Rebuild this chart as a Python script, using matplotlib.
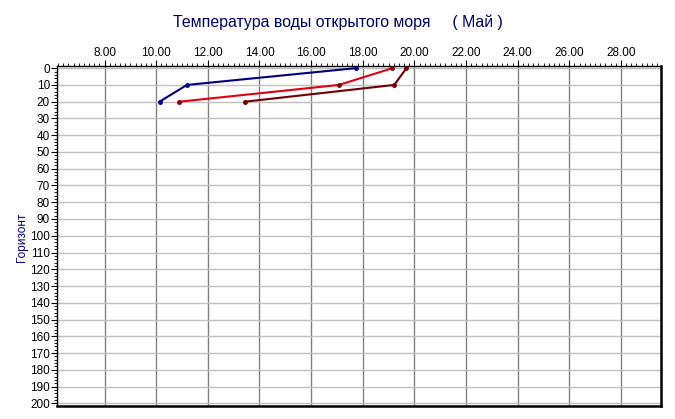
import matplotlib
matplotlib.use('Agg')
import matplotlib.pyplot as plt
from matplotlib.ticker import MultipleLocator, FormatStrFormatter

# Depth levels (horizons), m
depths = [0, 10, 20]

# Temperature profiles
temp_blue = [17.72, 11.19, 10.13]
temp_red = [19.15, 17.08, 10.90]
temp_darkred = [19.69, 19.22, 13.44]

title = 'Температура воды открытого моря     ( Май )'
ylabel = 'Горизонт'

plt.rcParams['font.family'] = ['Liberation Sans', 'DejaVu Sans']

fig = plt.figure(figsize=(6.75, 4.19), dpi=100)
ax = fig.add_axes([57/675, 1 - 406/419, (661 - 57)/675, (406 - 66)/419])

ax.plot(temp_blue, depths, color='#000080', lw=1.5, marker='o', ms=2.5, zorder=3)
ax.plot(temp_red, depths, color='#e00010', lw=1.5, marker='o', ms=2.5,
        mfc='#800000', mec='#800000', zorder=3)
ax.plot(temp_darkred, depths, color='#700000', lw=1.5, marker='o', ms=2.5, zorder=3)

ax.set_xlim(6.16, 29.55)
ax.set_ylim(201.6, -1.3)

ax.xaxis.tick_top()
ax.xaxis.set_major_locator(MultipleLocator(2))
ax.xaxis.set_minor_locator(MultipleLocator(0.2))
ax.xaxis.set_major_formatter(FormatStrFormatter('%.2f'))
ax.yaxis.set_major_locator(MultipleLocator(10))
ax.yaxis.set_minor_locator(MultipleLocator(2))

ax.tick_params(axis='x', which='major', length=4, width=0.8, labelsize=8.5, pad=1)
ax.tick_params(axis='x', which='minor', length=2.5, width=0.6)
ax.tick_params(axis='y', which='major', length=4, width=0.8, labelsize=8.5, pad=1)
ax.tick_params(axis='y', which='minor', length=2.5, width=0.6)

ax.grid(axis='x', which='major', color='#808080', lw=1.0)
ax.grid(axis='y', which='major', color='#c0c0c0', lw=1.0)
ax.set_axisbelow(True)

for side in ['left', 'top']:
    ax.spines[side].set_linewidth(1.0)
for side in ['right', 'bottom']:
    ax.spines[side].set_linewidth(1.8)

fig.text(22/675, 1 - 237/419, ylabel, color='#000080', fontsize=8.5,
         rotation=90, ha='center', va='center')
fig.text(0.5, 1 - 22/419, title, color='#000060', fontsize=11.4,
         ha='center', va='center')

fig.savefig('out.png', dpi=100)
